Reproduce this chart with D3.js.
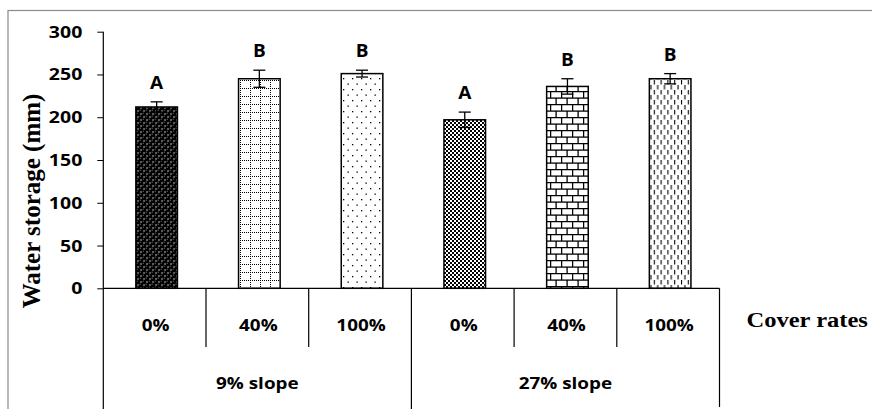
<!DOCTYPE html>
<html>
<head>
<meta charset="utf-8">
<script src="https://cdn.jsdelivr.net/npm/d3@7"></script>
<style>
  html, body { margin: 0; padding: 0; background: #fff; }
  svg { display: block; }
</style>
</head>
<body>
<svg id="chart" width="872" height="409"></svg>
<script>
const categories = ["0%", "40%", "100%", "0%", "40%", "100%"];
const groups = ["9% slope", "27% slope"];
const values = [212, 245, 251, 197, 236, 245];
const errors = [6, 10, 4, 9, 9, 6];
const letters = ["A", "B", "B", "A", "B", "B"];
const yTicks = [0, 50, 100, 150, 200, 250, 300];
const patterns = ["spheres", "dotgrid", "sparsedots", "checker", "brick", "dashes"];

const svg = d3.select("#chart");
const W = 872, H = 409;
const sans = "'Open Sans', Calibri, sans-serif";
const serif = "'Liberation Serif', 'Times New Roman', serif";

// frame
svg.append("rect").attr("x", 8).attr("y", 10.5).attr("width", 880).attr("height", 420)
  .attr("fill", "none").attr("stroke", "#8a8a8a").attr("stroke-width", 1.2);

// ---------- patterns ----------
const defs = svg.append("defs");
function pat(id, w, h) {
  return defs.append("pattern").attr("id", id).attr("patternUnits", "userSpaceOnUse")
    .attr("width", w).attr("height", h);
}
// spheres
{
  const p = pat("spheres", 6, 6);
  p.append("rect").attr("width", 6).attr("height", 6).attr("fill", "#fff");
  [[0,0],[6,0],[0,6],[6,6],[3,3]].forEach(([cx,cy]) => {
    p.append("circle").attr("cx", cx).attr("cy", cy).attr("r", 2.5).attr("fill", "#000");
    p.append("circle").attr("cx", cx - 0.8).attr("cy", cy - 0.8).attr("r", 0.6).attr("fill", "#777");
  });
}
// dotted grid
{
  const p = pat("dotgrid", 10, 8);
  p.append("rect").attr("width", 10).attr("height", 8).attr("fill", "#fff");
  p.append("line").attr("x1", 0).attr("x2", 10).attr("y1", 0.5).attr("y2", 0.5)
    .attr("stroke", "#000").attr("stroke-width", 1).attr("stroke-dasharray", "1,1");
  p.append("line").attr("x1", 0.5).attr("x2", 0.5).attr("y1", 0).attr("y2", 8)
    .attr("stroke", "#000").attr("stroke-width", 1).attr("stroke-dasharray", "1,1");
}
// sparse dots
{
  const p = pat("sparsedots", 9, 11);
  p.append("rect").attr("width", 9).attr("height", 11).attr("fill", "#fff");
  p.append("rect").attr("x", 1).attr("y", 1).attr("width", 1.3).attr("height", 1.3).attr("fill", "#000");
  p.append("rect").attr("x", 5.5).attr("y", 6.5).attr("width", 1.3).attr("height", 1.3).attr("fill", "#000");
}
// checker
{
  const p = pat("checker", 4, 4);
  p.append("rect").attr("width", 4).attr("height", 4).attr("fill", "#fff");
  p.append("rect").attr("width", 2).attr("height", 2).attr("fill", "#000");
  p.append("rect").attr("x", 2).attr("y", 2).attr("width", 2).attr("height", 2).attr("fill", "#000");
}
// brick
{
  const p = pat("brick", 11, 13);
  p.append("rect").attr("width", 11).attr("height", 13).attr("fill", "#fff");
  p.append("line").attr("x1", 0).attr("x2", 11).attr("y1", 0.6).attr("y2", 0.6).attr("stroke", "#000").attr("stroke-width", 1.3);
  p.append("line").attr("x1", 0).attr("x2", 11).attr("y1", 7.1).attr("y2", 7.1).attr("stroke", "#000").attr("stroke-width", 1.3);
  p.append("line").attr("x1", 0.6).attr("x2", 0.6).attr("y1", 0).attr("y2", 7).attr("stroke", "#000").attr("stroke-width", 1.3);
  p.append("line").attr("x1", 6.1).attr("x2", 6.1).attr("y1", 7).attr("y2", 13).attr("stroke", "#000").attr("stroke-width", 1.3);
}
// vertical dashes
{
  const p = pat("dashes", 6.8, 10);
  p.append("rect").attr("width", 6.8).attr("height", 10).attr("fill", "#fff");
  p.append("line").attr("x1", 1.5).attr("x2", 1.5).attr("y1", 0).attr("y2", 4.5).attr("stroke", "#000").attr("stroke-width", 1.1);
  p.append("line").attr("x1", 4.9).attr("x2", 4.9).attr("y1", 5).attr("y2", 9.5).attr("stroke", "#000").attr("stroke-width", 1.1);
}

// ---------- scales ----------
const x0 = 103.3, x1 = 719.5;
const x = d3.scaleBand().domain(d3.range(categories.length)).range([x0, x1]).padding(0);
const xg = d3.scaleBand().domain(groups).range([x0, x1]).padding(0);
const y = d3.scaleLinear().domain([0, 300]).range([288.3, 31.7]);
const barW = x.bandwidth() * 0.405;
const barX = i => x(i) + (x.bandwidth() - barW) / 2 + 2;

// ---------- bars ----------
svg.append("g").selectAll("rect").data(values).join("rect")
  .attr("x", (d, i) => barX(i))
  .attr("y", d => y(d))
  .attr("width", barW)
  .attr("height", d => y(0) - y(d))
  .attr("fill", (d, i) => `url(#${patterns[i]})`)
  .attr("stroke", "#000").attr("stroke-width", 1.5);

// error bars
const eg = svg.append("g").attr("stroke", "#000").attr("stroke-width", 1.3);
values.forEach((v, i) => {
  const cx = barX(i) + barW / 2;
  eg.append("line").attr("x1", cx).attr("x2", cx).attr("y1", y(v - errors[i])).attr("y2", y(v + errors[i]));
  eg.append("line").attr("x1", cx - 6).attr("x2", cx + 6).attr("y1", y(v + errors[i])).attr("y2", y(v + errors[i]));
  eg.append("line").attr("x1", cx - 6).attr("x2", cx + 6).attr("y1", y(v - errors[i])).attr("y2", y(v - errors[i]));
});

// letters
svg.append("g").selectAll("text").data(letters).join("text")
  .attr("transform", (d, i) => `translate(${barX(i) + barW / 2},${y(values[i] + errors[i]) - 13}) scale(1.12,1)`)
  .attr("text-anchor", "middle")
  .attr("font-family", sans).attr("font-weight", 700).attr("font-size", 17)
  .attr("fill", "#000").text(d => d);

// ---------- y axis ----------
const yAxis = svg.append("g").attr("transform", `translate(${x0},0)`)
  .call(d3.axisLeft(y).tickValues(yTicks).tickSize(6).tickSizeOuter(0));
yAxis.select(".domain").remove();
yAxis.selectAll(".tick line").attr("stroke", "#000").attr("stroke-width", 1);
yAxis.selectAll(".tick text")
  .attr("x", null).attr("dy", null)
  .attr("transform", "translate(-21,5.5) scale(1.26,1)")
  .attr("text-anchor", "end")
  .attr("font-family", sans).attr("font-weight", 700).attr("font-size", 15.5).attr("fill", "#000");

svg.append("line").attr("x1", x0).attr("x2", x0).attr("y1", y(300)).attr("y2", H)
  .attr("stroke", "#000").attr("stroke-width", 1.2);

// ---------- x axis / category table ----------
svg.append("line").attr("x1", x0).attr("x2", x1).attr("y1", y(0)).attr("y2", y(0))
  .attr("stroke", "#000").attr("stroke-width", 1.2);

const bounds = d3.range(1, categories.length + 1);
svg.append("g").selectAll("line").data(bounds).join("line")
  .attr("x1", i => i === categories.length ? x1 : x(i))
  .attr("x2", i => i === categories.length ? x1 : x(i))
  .attr("y1", y(0))
  .attr("y2", i => (i % 3 === 0) ? (i === categories.length ? 407 : H) : 347)
  .attr("stroke", "#000").attr("stroke-width", 1.2);

svg.append("g").selectAll("text").data(categories).join("text")
  .attr("transform", (d, i) => `translate(${x(i) + x.bandwidth() / 2 + 1},${330.5}) scale(1.18,1)`)
  .attr("text-anchor", "middle")
  .attr("font-family", sans).attr("font-weight", 700).attr("font-size", 16).attr("fill", "#000")
  .text(d => d);

svg.append("g").selectAll("text").data(groups).join("text")
  .attr("transform", d => `translate(${xg(d) + xg.bandwidth() / 2},${389}) scale(1.18,1)`)
  .attr("text-anchor", "middle")
  .attr("font-family", sans).attr("font-weight", 700).attr("font-size", 16).attr("fill", "#000")
  .text(d => d);

// axis titles
svg.append("text")
  .attr("transform", "translate(746.5,326.5) scale(1.14,1)")
  .attr("font-family", serif).attr("font-weight", 700).attr("font-size", 21.5).attr("fill", "#000")
  .text("Cover rates");

svg.append("text")
  .attr("transform", "translate(39.5,201) rotate(-90)")
  .attr("text-anchor", "middle")
  .attr("font-family", serif).attr("font-weight", 700).attr("font-size", 25).attr("fill", "#000")
  .text("Water storage (mm)");
</script>
</body>
</html>
